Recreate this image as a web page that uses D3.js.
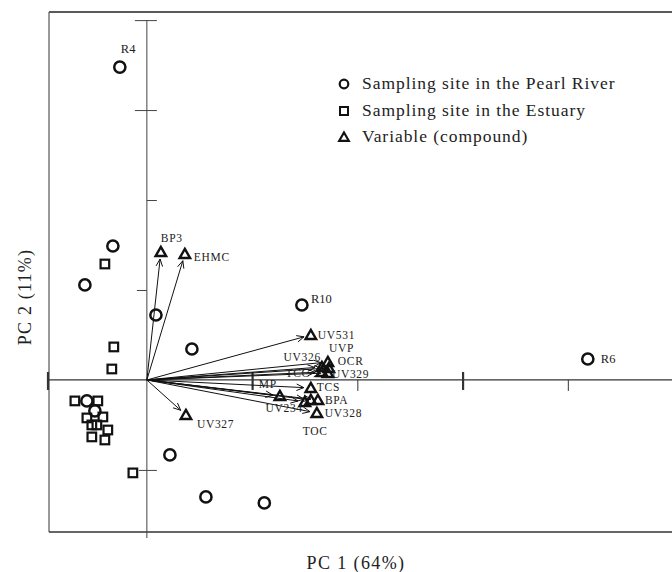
<!DOCTYPE html>
<html><head><meta charset="utf-8">
<script src="https://cdn.jsdelivr.net/npm/d3@7"></script>
<style>
body{margin:0;background:#fff;}
svg text{font-family:"Liberation Serif","Times New Roman",serif;fill:#222;}
</style></head>
<body><svg id="c" width="672" height="572"></svg>
<script>
// ---- data (PC1, PC2 scores) ----
const riverNames = ["R4","","","","","R10","R6","","","","",""];
const riverPC1 = [-0.257,-0.323,-0.589,0.086,0.428,1.473,4.19,-0.570,-0.494,0.219,0.561,1.116];
const riverPC2 = [3.478,1.489,1.056,0.722,0.344,0.833,0.233,-0.233,-0.344,-0.833,-1.30,-1.367];

const estuaryPC1 = [-0.399,-0.314,-0.333,-0.684,-0.466,-0.570,-0.418,-0.523,-0.475,-0.371,-0.523,-0.399,-0.133];
const estuaryPC2 = [1.289,0.367,0.122,-0.233,-0.233,-0.422,-0.411,-0.50,-0.50,-0.556,-0.633,-0.667,-1.033];

const varNames = ["BP3","EHMC","UV531","UVP","UV326","OCR","TCC","UV329","TCS","MP","UV234","BPA","UV328","TOC","UV327"];
const varPC1 = [0.133,0.361,1.558,1.720,1.663,1.729,1.663,1.720,1.558,1.264,1.501,1.625,1.615,1.558,0.371];
const varPC2 = [1.422,1.400,0.500,0.200,0.144,0.133,0.089,0.078,-0.089,-0.178,-0.244,-0.222,-0.367,-0.222,-0.389];

const xTicks = [1,2,3,4];
const yTicks = [-1,1,2,3,4];
const legendLabels = ["Sampling site in the Pearl River","Sampling site in the Estuary","Variable (compound)"];
const xTitle = "PC  1 (64%)";
const yTitle = "PC 2 (11%)";

// ---- label placement (px offsets, anchor) ----
const varLabelPos = {
  BP3:[0,-10,"start"], EHMC:[9,7,"start"], UV531:[7,4,"start"], UVP:[1,-10,"start"],
  UV326:[-1,-6,"end"], OCR:[9,-3,"start"], TCC:[-12,5,"end"], UV329:[4,5,"start"],
  TCS:[6,3,"start"], MP:[-3,-8,"end"], UV234:[-2,10,"end"], BPA:[7,4,"start"],
  UV328:[8,4,"start"], TOC:[-8,35,"start"], UV327:[11,13,"start"]
};
const siteLabelPos = {R4:[1,-14], R10:[9,-2], R6:[13,4]};

const svg = d3.select("#c");
const x = d3.scaleLinear().domain([-0.93,4.99]).range([49,672]);
const y = d3.scaleLinear().domain([-1.69,4.09]).range([532,12]);
const X0 = x(0), Y0 = y(0);

// frame
svg.append("line").attr("x1",49).attr("x2",672).attr("y1",12).attr("y2",12).attr("stroke","#222").attr("stroke-width",1.3);
svg.append("line").attr("x1",49).attr("x2",49).attr("y1",12).attr("y2",532).attr("stroke","#555").attr("stroke-width",1.2);
svg.append("line").attr("x1",49).attr("x2",672).attr("y1",532).attr("y2",532).attr("stroke","#333").attr("stroke-width",1.3);

// horizontal axis through origin
const gx = svg.append("g").attr("transform",`translate(0,${Y0})`)
  .call(d3.axisBottom(x).tickValues(xTicks).tickSize(11).tickFormat(""));
gx.select(".domain").remove();
gx.selectAll(".tick line").attr("stroke","#333").attr("stroke-width",1)
  .filter(d=>d%2===1).attr("y1",-8).attr("y2",10).attr("stroke-width",2.2);
svg.append("line").attr("x1",47).attr("x2",672).attr("y1",Y0).attr("y2",Y0).attr("stroke","#333").attr("stroke-width",1.2);
svg.append("line").attr("x1",48).attr("x2",48).attr("y1",Y0-8).attr("y2",Y0+10).attr("stroke","#333").attr("stroke-width",2.2);

// vertical axis through origin
const gy = svg.append("g").attr("transform",`translate(${X0},0)`)
  .call(d3.axisRight(y).tickValues(yTicks).tickSize(10).tickFormat(""));
gy.select(".domain").remove();
gy.selectAll(".tick line").attr("stroke","#444").attr("stroke-width",1)
  .attr("x1",d=>(d>=3?-12:(d===1?-10:(d===-1?-8:0))))
  .attr("x2",d=>(d>=3?10:(d===1?0:10)));
svg.append("line").attr("x1",X0).attr("x2",X0).attr("y1",y(4)).attr("y2",538).attr("stroke","#444").attr("stroke-width",1);

// variable arrows
const vars = varNames.map((n,i)=>({n, px:x(varPC1[i]), py:y(varPC2[i])}));
const arrows = svg.append("g").attr("stroke","#111").attr("fill","none").attr("stroke-width",1);
vars.forEach(v=>{
  const dx=v.px-X0, dy=v.py-Y0, L=Math.hypot(dx,dy), ux=dx/L, uy=dy/L;
  const ex=v.px-ux*7, ey=v.py-uy*7;
  arrows.append("line").attr("x1",X0).attr("y1",Y0).attr("x2",ex).attr("y2",ey);
  const a=Math.atan2(uy,ux), h=8, w=0.42;
  arrows.append("path").attr("d",`M${ex-h*Math.cos(a-w)},${ey-h*Math.sin(a-w)}L${ex},${ey}L${ex-h*Math.cos(a+w)},${ey-h*Math.sin(a+w)}`);
});

// triangles
const tri = d3.symbol().type(d3.symbolTriangle).size(48);
svg.append("g").selectAll("path").data(vars).join("path")
  .attr("d",tri).attr("transform",d=>`translate(${d.px},${d.py+1})`)
  .attr("fill","none").attr("stroke","#111").attr("stroke-width",2.4);
svg.append("g").selectAll("text").data(vars).join("text")
  .attr("x",d=>d.px+varLabelPos[d.n][0]).attr("y",d=>d.py+varLabelPos[d.n][1])
  .attr("text-anchor",d=>varLabelPos[d.n][2])
  .attr("font-size",11.5).attr("letter-spacing",0.7).text(d=>d.n);

// estuary squares
svg.append("g").selectAll("rect").data(estuaryPC1.map((v,i)=>[x(v),y(estuaryPC2[i])])).join("rect")
  .attr("x",d=>d[0]-4.3).attr("y",d=>d[1]-4.3).attr("width",8.6).attr("height",8.6)
  .attr("fill","none").attr("stroke","#111").attr("stroke-width",2.2);

// river circles
const river = riverNames.map((n,i)=>({n, px:x(riverPC1[i]), py:y(riverPC2[i])}));
svg.append("g").selectAll("circle").data(river).join("circle")
  .attr("cx",d=>d.px).attr("cy",d=>d.py).attr("r",5.6)
  .attr("fill","none").attr("stroke","#111").attr("stroke-width",2.5);
svg.append("g").selectAll("text").data(river.filter(d=>d.n)).join("text")
  .attr("x",d=>d.px+siteLabelPos[d.n][0]).attr("y",d=>d.py+siteLabelPos[d.n][1])
  .attr("font-size",12.5).text(d=>d.n);

// legend
const lg = svg.append("g");
const ly = [84,111,137];
lg.append("circle").attr("cx",344).attr("cy",ly[0]).attr("r",4.3).attr("fill","none").attr("stroke","#111").attr("stroke-width",2.2);
lg.append("rect").attr("x",340).attr("y",ly[1]-4).attr("width",8).attr("height",8).attr("fill","none").attr("stroke","#111").attr("stroke-width",2);
lg.append("path").attr("d",d3.symbol().type(d3.symbolTriangle).size(40)).attr("transform",`translate(344,${ly[2]+1})`).attr("fill","none").attr("stroke","#111").attr("stroke-width",2.2);
lg.selectAll("text").data(legendLabels).join("text")
  .attr("x",362).attr("y",(d,i)=>ly[i]+5).attr("font-size",17.5).attr("letter-spacing",0.95).text(d=>d);

// axis titles
svg.append("text").attr("x",356).attr("y",569).attr("text-anchor","middle").attr("font-size",18).attr("letter-spacing",1.4).text(xTitle);
svg.append("text").attr("transform","translate(31,297) rotate(-90)").attr("text-anchor","middle").attr("font-size",18).attr("letter-spacing",1.2).text(yTitle);
</script></body></html>
